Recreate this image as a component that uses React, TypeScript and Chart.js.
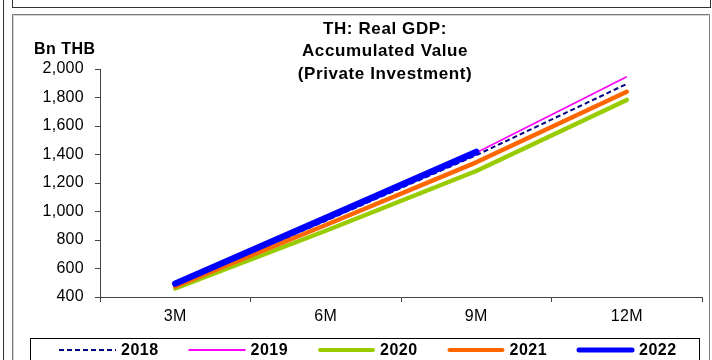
import { useEffect, useRef } from 'react';
import { Chart, registerables } from 'chart.js';

Chart.register(...registerables);

const categories = ['3M', '6M', '9M', '12M'];
const seriesNames = ['2018', '2019', '2020', '2021', '2022'];
const v2018 = [482, 935, 1395, 1895];
const v2019 = [488, 948, 1412, 1945];
const v2020 = [460, 865, 1284, 1783];
const v2021 = [475, 905, 1345, 1840];
const v2022 = [494, 955, 1418, null];
const yMin = 400;
const yMax = 2000;
const yStep = 200;
const titleLines = ['TH: Real GDP:', 'Accumulated Value', '(Private Investment)'];
const yUnit = 'Bn THB';

const FONT = "'Liberation Sans', Arial, sans-serif";

const styles = [
  { color: '#000080', width: 2, dash: [5, 3], legendWidth: 2, cap: 'butt' },
  { color: '#FF00FF', width: 1.6, dash: [], legendWidth: 2, cap: 'butt' },
  { color: '#99CC00', width: 4.5, dash: [], legendWidth: 4, cap: 'round' },
  { color: '#FF6600', width: 4.5, dash: [], legendWidth: 4, cap: 'round' },
  { color: '#0000FF', width: 6.5, dash: [], legendWidth: 5, cap: 'round' },
];

const framePlugin = {
  id: 'frame',
  beforeUpdate(chart: any) {
    chart.ctx.letterSpacing = '0.3px';
  },
  beforeLayout(chart: any) {
    chart.ctx.letterSpacing = '0.3px';
  },
  beforeDraw(chart: any) {
    const ctx = chart.ctx;
    ctx.save();
    ctx.fillStyle = '#ffffff';
    ctx.fillRect(0, 0, chart.width, chart.height);
    ctx.lineWidth = 1;
    ctx.strokeStyle = '#333333';
    ctx.beginPath();
    ctx.moveTo(3.5, 0);
    ctx.lineTo(3.5, 360);
    ctx.stroke();
    ctx.strokeRect(12.5, -2.5, 698, 10);
    ctx.strokeStyle = '#7a7a7a';
    ctx.beginPath();
    ctx.moveTo(12.5, 370);
    ctx.lineTo(12.5, 14.5);
    ctx.lineTo(709.5, 14.5);
    ctx.lineTo(709.5, 370);
    ctx.stroke();
    ctx.strokeStyle = '#d4d4d4';
    ctx.beginPath();
    ctx.moveTo(13.5, 370);
    ctx.lineTo(13.5, 15.5);
    ctx.lineTo(708.5, 15.5);
    ctx.stroke();
    ctx.restore();
    ctx.letterSpacing = '0.3px';
  },
  afterDraw(chart: any) {
    const ctx = chart.ctx;
    ctx.save();
    ctx.fillStyle = '#000';
    ctx.textAlign = 'center';
    ctx.textBaseline = 'middle';
    ctx.font = `bold 17px ${FONT}`;
    ctx.letterSpacing = '0.6px';
    titleLines.forEach((t, i) => {
      ctx.fillText(t, 385, 29 + i * 22.7);
    });
    ctx.font = `bold 16px ${FONT}`;
    ctx.letterSpacing = '0.5px';
    ctx.textAlign = 'left';
    ctx.fillText(yUnit, 34, 50);

    // legend
    ctx.strokeStyle = '#000';
    ctx.lineWidth = 1;
    ctx.strokeRect(30.5, 338.5, 669, 40);
    ctx.letterSpacing = '0.5px';
    const ly = 350;
    seriesNames.forEach((name, i) => {
      const st = styles[i];
      const x0 = 59 + i * 129.5;
      ctx.save();
      ctx.strokeStyle = st.color;
      ctx.lineWidth = st.legendWidth;
      ctx.setLineDash(st.dash);
      ctx.lineCap = st.cap;
      ctx.beginPath();
      ctx.moveTo(x0 + (st.cap === 'round' ? 2 : 0), ly);
      ctx.lineTo(x0 + 57 - (st.cap === 'round' ? 2 : 0), ly);
      ctx.stroke();
      ctx.restore();
      ctx.fillStyle = '#000';
      ctx.font = `bold 16px ${FONT}`;
      ctx.textAlign = 'left';
      ctx.textBaseline = 'middle';
      ctx.fillText(name, x0 + 62, ly + 1);
    });
    ctx.restore();
  },
};

export default function App() {
  const ref = useRef<HTMLCanvasElement | null>(null);
  useEffect(() => {
    document.body.style.margin = '0';
    const canvas = ref.current;
    if (!canvas) return;
    const values = [v2018, v2019, v2020, v2021, v2022];
    const chart = new Chart(canvas, {
      type: 'line',
      data: {
        labels: categories,
        datasets: seriesNames.map((name, i) => ({
          label: name,
          data: values[i],
          borderColor: styles[i].color,
          backgroundColor: styles[i].color,
          borderWidth: styles[i].width,
          borderDash: styles[i].dash,
          borderCapStyle: styles[i].cap as any,
          borderJoinStyle: 'round' as any,
          pointRadius: 0,
          tension: 0,
          fill: false,
          order: seriesNames.length - 1 - i,
        })),
      },
      options: {
        responsive: false,
        animation: false,
        layout: { padding: { left: 0, right: 10, top: 69, bottom: 33 } },
        plugins: {
          legend: { display: false },
          title: { display: false },
          tooltip: { enabled: false },
        },
        scales: {
          x: {
            offset: true,
            grid: {
              offset: true,
              drawOnChartArea: false,
              drawTicks: true,
              tickLength: 5,
              color: '#444',
            },
            border: { color: '#444', width: 1 },
            ticks: {
              color: '#000',
              font: { family: FONT, size: 16 },
              padding: 5,
              maxRotation: 0,
            },
            afterFit(scale: any) {
              scale.height = 30;
            },
          },
          y: {
            min: yMin,
            max: yMax,
            grid: {
              drawOnChartArea: false,
              drawTicks: true,
              tickLength: 5,
              color: '#444',
            },
            border: { color: '#444', width: 1 },
            ticks: {
              stepSize: yStep,
              color: '#000',
              font: { family: FONT, size: 16 },
              padding: 11,
              callback: (v: any) => Number(v).toLocaleString('en-US'),
            },
            afterFit(scale: any) {
              scale.width = 100;
            },
          },
        },
      },
      plugins: [framePlugin],
    });
    return () => chart.destroy();
  }, []);
  return (
    <div style={{ width: 712, height: 360, position: 'relative', background: '#fff' }}>
      <canvas ref={ref} width={712} height={360} style={{ display: 'block' }} />
    </div>
  );
}
